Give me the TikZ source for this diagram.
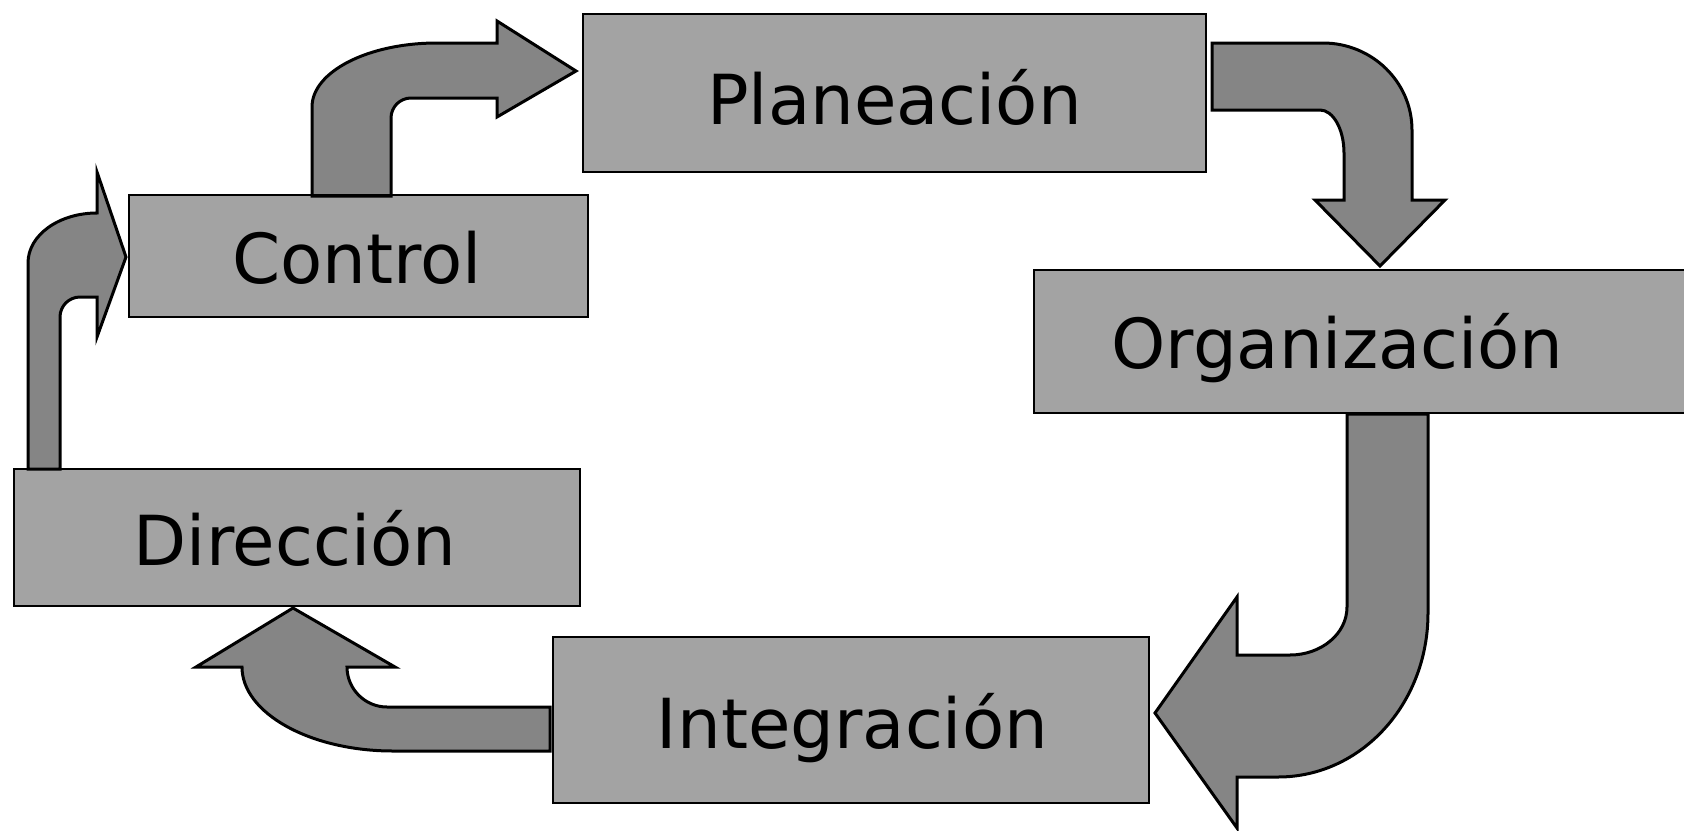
\documentclass[tikz,border=0pt]{standalone}
\usepackage{fontspec}
\setmainfont{DejaVu Sans}
\begin{document}
\definecolor{boxgray}{gray}{0.64}
\definecolor{arrowgray}{gray}{0.52}
\tikzset{
  box/.style={draw=black, line width=2.8pt, fill=boxgray, inner sep=0pt, rectangle},
  boxline/.style={draw=black, line width=2.8pt, inner sep=0pt, rectangle},
  lbl/.style={anchor=base, inner sep=0pt, text=black, font=\fontsize{69}{80}\selectfont},
  blockarrow/.style={draw=black, line width=3pt, fill=arrowgray, line join=miter}
}
\begin{tikzpicture}[x=1pt, y=-1pt]
\useasboundingbox (0,0) rectangle (1684,830);
\fill[white] (0,0) rectangle (1684,830);
\clip (0,0) rectangle (1684,830);

% boxes
\node[box, minimum width=623pt, minimum height=158pt] (plan) at (894.5,93) {};
\node[box, minimum width=459pt, minimum height=122pt] (ctrl) at (358.5,256) {};
\node[box, minimum width=656pt, minimum height=143pt] (org) at (1362,341.5) {};
\node[box, minimum width=566pt, minimum height=137pt] (dir) at (297,537.5) {};
\node[box, minimum width=596pt, minimum height=166pt] (integ) at (851,720) {};

% block arrows (drawn from box to box)
% Control -> Planeacion
\draw[blockarrow] (312,196) -- (312,107)
  .. controls (312,71.7) and (368,43) .. (437,43)
  -- (497,43) -- (497,21) -- (576,71) -- (497,117) -- (497,98) -- (411,98)
  .. controls (400,98) and (391,107) .. (391,118)
  -- (391,196) -- cycle;
% Planeacion -> Organizacion
\draw[blockarrow] (1212,43) -- (1323,43)
  .. controls (1372,43) and (1412,82) .. (1412,130)
  -- (1412,200) -- (1445,200) -- (1380,266) -- (1315,200) -- (1344,200) -- (1344,153)
  .. controls (1344,129) and (1333,110) .. (1320,110)
  -- (1212,110) -- cycle;
% Organizacion -> Integracion
\draw[blockarrow] (1347,414) -- (1428,414) -- (1428,613)
  .. controls (1428,704) and (1361,777) .. (1278,777)
  -- (1237,777) -- (1237,828) -- (1155,713) -- (1237,597) -- (1237,655) -- (1290,655)
  .. controls (1321,655) and (1347,634) .. (1347,607)
  -- cycle;
% Integracion -> Direccion
\draw[blockarrow] (550,707) -- (387,707)
  .. controls (365,707) and (347,689) .. (347,667)
  -- (395,667) -- (293,608) -- (196,667) -- (242,667)
  .. controls (242,713) and (310,751) .. (393,751)
  -- (550,751) -- cycle;
% Direccion -> Control
\draw[blockarrow] (28,469) -- (28,263)
  .. controls (28,235) and (59,213) .. (97,213)
  -- (97,172) -- (126,257) -- (97,337) -- (97,297) -- (80,297)
  .. controls (69,297) and (60,306) .. (60,317)
  -- (60,469) -- cycle;

% box borders on top where arrows touch
\node[boxline, minimum width=623pt, minimum height=158pt] at (plan) {};
\node[boxline, minimum width=459pt, minimum height=122pt] at (ctrl) {};
\node[boxline, minimum width=656pt, minimum height=143pt] at (org) {};
\node[boxline, minimum width=566pt, minimum height=137pt] at (dir) {};
\node[boxline, minimum width=596pt, minimum height=166pt] at (integ) {};

% labels
\node[lbl] (planT) at (894.5,124) {Planeación};
\node[lbl] (ctrlT) at (357,283) {Control};
\node[lbl] (orgT) at (1337.5,368) {Organización};
\node[lbl] (dirT) at (295,565) {Dirección};
\node[lbl] (integT) at (852.5,748) {Integración};
\end{tikzpicture}
\end{document}
